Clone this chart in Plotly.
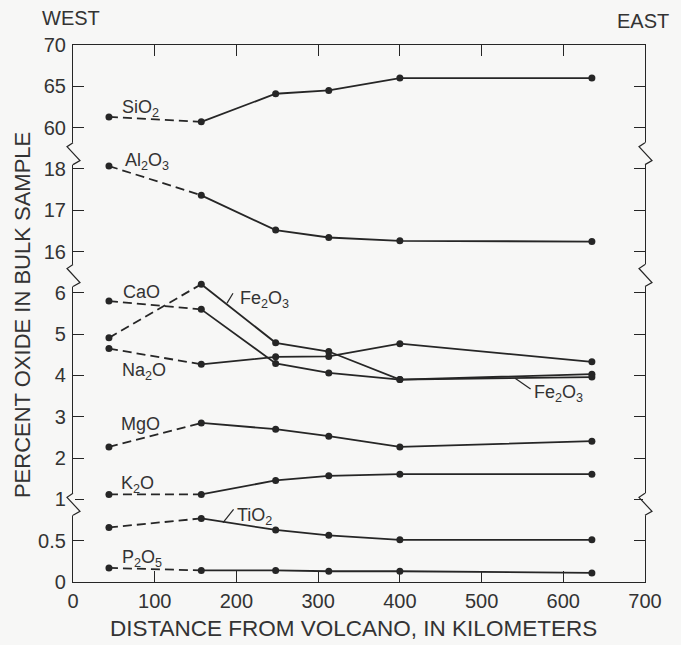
import plotly.graph_objects as go

# ---------------- data ----------------
distance_km = [44, 157, 248, 313, 400, 635]
SiO2 = [61.3, 60.7, 64.1, 64.5, 66.0, 66.0]
Al2O3 = [18.07, 17.36, 16.52, 16.34, 16.26, 16.24]
CaO = [5.80, 5.60, 4.29, 4.06, 3.90, 4.03]
Fe2O3 = [4.91, 6.21, 4.79, 4.58, 3.90, 3.96]
Na2O = [4.65, 4.27, 4.45, 4.46, 4.77, 4.33]
MgO = [2.27, 2.85, 2.70, 2.53, 2.27, 2.41]
K2O = [1.12, 1.12, 1.46, 1.57, 1.61, 1.61]
TiO2 = [0.66, 0.77, 0.63, 0.565, 0.51, 0.51]
P2O5 = [0.17, 0.14, 0.14, 0.13, 0.13, 0.11]

y_tick_values = [0, 0.5, 1, 2, 3, 4, 5, 6, 16, 17, 18, 60, 65, 70]
x_tick_values = [0, 100, 200, 300, 400, 500, 600, 700]

series = [
    ("SiO<sub>2</sub>", SiO2),
    ("Al<sub>2</sub>O<sub>3</sub>", Al2O3),
    ("CaO", CaO),
    ("Fe<sub>2</sub>O<sub>3</sub>", Fe2O3),
    ("Na<sub>2</sub>O", Na2O),
    ("MgO", MgO),
    ("K<sub>2</sub>O", K2O),
    ("TiO<sub>2</sub>", TiO2),
    ("P<sub>2</sub>O<sub>5</sub>", P2O5),
]


# broken-axis scale: value -> position on a uniform axis
def pos(v):
    if v <= 1:
        return 2 * v
    if v < 11:
        return v + 1
    if v < 40:
        return v - 8
    return 11 + (v - 60) / 5.0


INK = "#262626"
TXT = "#333333"
BG = "#f7f7f6"
FONT = "Liberation Sans, Arial, Helvetica, sans-serif"

fig = go.Figure()
for name, vals in series:
    ys = [pos(v) for v in vals]
    fig.add_trace(go.Scatter(
        x=distance_km[:2], y=ys[:2], mode="lines",
        line=dict(color=INK, width=1.8, dash="9px,5px"),
        hoverinfo="skip", showlegend=False))
    fig.add_trace(go.Scatter(
        x=distance_km[1:], y=ys[1:], mode="lines",
        line=dict(color=INK, width=1.8),
        name=name, showlegend=False))
    fig.add_trace(go.Scatter(
        x=distance_km, y=ys, mode="markers",
        marker=dict(color=INK, size=7),
        name=name, showlegend=False))

# series labels: (text, x km, position on uniform axis)
labels = [
    ("SiO<sub>2</sub>", 83, 11.52),
    ("Al<sub>2</sub>O<sub>3</sub>", 90, 10.23),
    ("CaO", 83.5, 7.03),
    ("Fe<sub>2</sub>O<sub>3</sub>", 234, 6.89),
    ("Na<sub>2</sub>O", 87, 5.14),
    ("MgO", 82.6, 3.82),
    ("K<sub>2</sub>O", 79.5, 2.42),
    ("TiO<sub>2</sub>", 222.7, 1.64),
    ("P<sub>2</sub>O<sub>5</sub>", 84.5, 0.62),
    ("Fe<sub>2</sub>O<sub>3</sub>", 594, 4.62),
]
annotations = []
for t, xk, yp in labels:
    annotations.append(dict(x=xk, y=yp, xref="x", yref="y", text=t,
                            showarrow=False, xanchor="center", yanchor="middle",
                            yshift=-2 if "<sub>" in t else 0,
                            font=dict(family=FONT, size=18, color=TXT)))

annotations += [
    dict(x=-0.0035, y=1.051, xref="paper", yref="paper", text="WEST", showarrow=False,
         xanchor="center", yanchor="middle", font=dict(family=FONT, size=20, color=TXT)),
    dict(x=0.9965, y=1.0456, xref="paper", yref="paper", text="EAST", showarrow=False,
         xanchor="center", yanchor="middle", font=dict(family=FONT, size=20, color=TXT)),
    dict(x=-0.0892, y=0.497, xref="paper", yref="paper", text="PERCENT OXIDE IN BULK SAMPLE",
         textangle=-90, showarrow=False, xanchor="center", yanchor="middle",
         font=dict(family=FONT, size=22, color=TXT)),
    dict(x=0.491, y=-0.0875, xref="paper", yref="paper",
         text="DISTANCE FROM VOLCANO, IN KILOMETERS", showarrow=False,
         xanchor="center", yanchor="middle", font=dict(family=FONT, size=22.5, color=TXT)),
]

shapes = []
# leader lines from labels to their curves
leaders = [
    (188.5, 6.75, 195.8, 6.99),   # upper Fe2O3
    (183.6, 1.44, 196.5, 1.76),   # TiO2
    (541.0, 4.935, 560.0, 4.67),  # lower Fe2O3
]
for x0, y0, x1, y1 in leaders:
    shapes.append(dict(type="line", xref="x", yref="y", x0=x0, y0=y0, x1=x1, y1=y1,
                       line=dict(color=INK, width=1.2), layer="above"))

# axis break symbols on both vertical axes
break_positions = [10.37, 7.42, 1.88]
for xa in (0, 1):
    for bp in break_positions:
        shapes.append(dict(type="path", xref="paper", yref="y", xsizemode="pixel",
                           ysizemode="pixel", xanchor=xa, yanchor=bp,
                           path="M0,11 L0,-11", line=dict(color=BG, width=4),
                           layer="above"))
        shapes.append(dict(type="path", xref="paper", yref="y", xsizemode="pixel",
                           ysizemode="pixel", xanchor=xa, yanchor=bp,
                           path="M0,11 L-6,7 L7,-7 L0,-11", line=dict(color=INK, width=1.2),
                           layer="above"))

fig.update_layout(
    width=681, height=645,
    margin=dict(l=73, r=36, t=45, b=63),
    paper_bgcolor=BG, plot_bgcolor=BG,
    font=dict(family=FONT, color=TXT),
    annotations=annotations, shapes=shapes,
    showlegend=False,
)
fig.update_xaxes(
    range=[0, 700], tickvals=x_tick_values, ticktext=[str(v) for v in x_tick_values],
    showgrid=False, zeroline=False, showline=True, linecolor=INK, linewidth=1.2,
    mirror="allticks", ticks="inside", ticklen=11, tickcolor=INK, tickwidth=1.2,
    tickfont=dict(family=FONT, size=20, color=TXT), ticklabelstandoff=1,
)
fig.update_yaxes(
    range=[0, 13], tickvals=[pos(v) for v in y_tick_values],
    ticktext=[("%g" % v) for v in y_tick_values],
    showgrid=False, zeroline=False, showline=True, linecolor=INK, linewidth=1.2,
    mirror="allticks", ticks="inside", ticklen=11, tickcolor=INK, tickwidth=1.2,
    tickfont=dict(family=FONT, size=20, color=TXT), ticklabelstandoff=2,
)

fig.write_html("out.html", config={"displayModeBar": False},
               post_script="document.body.style.margin='0px';document.body.style.overflow='hidden';")
